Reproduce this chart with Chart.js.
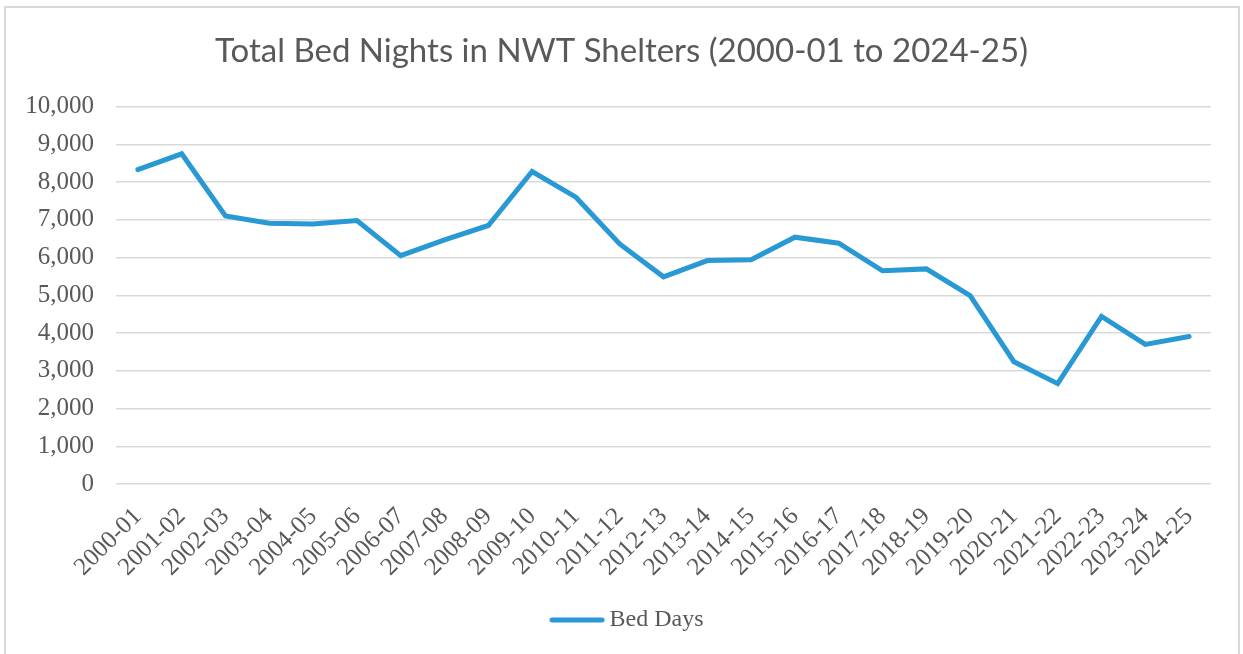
<!DOCTYPE html>
<html>
<head>
<meta charset="utf-8">
<script src="https://cdn.jsdelivr.net/npm/chart.js@4/dist/chart.umd.min.js"></script>
<style>
  html, body { margin: 0; padding: 0; background: #ffffff; }
  #wrap { position: relative; width: 1243px; height: 654px; overflow: hidden; }
  #frame { position: absolute; left: 4px; top: 6px; width: 1236px; height: 700px; border: 2px solid #d9d9d9; box-sizing: border-box; }
  canvas { position: absolute; left: 0; top: 0; }
</style>
</head>
<body>
<div id="wrap">
  <div id="frame"></div>
  <canvas id="c" width="1243" height="654"></canvas>
</div>
<script>
const titleText = "Total Bed Nights in NWT Shelters (2000-01 to 2024-25)";
const seriesName = "Bed Days";
const categories = ["2000-01","2001-02","2002-03","2003-04","2004-05","2005-06","2006-07","2007-08","2008-09","2009-10","2010-11","2011-12","2012-13","2013-14","2014-15","2015-16","2016-17","2017-18","2018-19","2019-20","2020-21","2021-22","2022-23","2023-24","2024-25"];
const bedDays = [8330,8750,7100,6910,6890,6980,6050,6470,6850,8280,7600,6360,5490,5920,5940,6540,6380,5650,5700,4990,3240,2660,4440,3700,3910];
const yMin = 0, yMax = 10000, yStep = 1000;

const textColor = "#595959";
const lineColor = "#2899D5";
const gridColor = "#d9d9d9";
const serif = "'Liberation Serif', 'DejaVu Serif', serif";

// legend swatch: a short thick line with round caps, offset toward the label
const swatch = document.createElement("canvas");
swatch.width = 76; swatch.height = 10;
(function () {
  const g = swatch.getContext("2d");
  g.strokeStyle = lineColor;
  g.lineWidth = 5;
  g.lineCap = "round";
  g.beginPath();
  g.moveTo(21.5, 5);
  g.lineTo(71.5, 5);
  g.stroke();
})();

new Chart(document.getElementById("c"), {
  type: "line",
  data: {
    labels: categories,
    datasets: [{
      label: seriesName,
      data: bedDays,
      borderColor: lineColor,
      backgroundColor: lineColor,
      borderWidth: 5,
      borderCapStyle: "round",
      borderJoinStyle: "miter",
      pointRadius: 0,
      pointHoverRadius: 0,
      pointStyle: swatch,
      tension: 0,
      fill: false
    }]
  },
  options: {
    responsive: false,
    animation: false,
    devicePixelRatio: 1,
    layout: { padding: { left: 0, right: 0, top: 0, bottom: 12 } },
    plugins: {
      title: {
        display: true,
        text: titleText,
        color: textColor,
        font: { family: "Lato, 'Open Sans', sans-serif", size: 33, weight: "normal" },
        padding: { top: 32, bottom: 35 }
      },
      legend: {
        display: true,
        position: "bottom",
        labels: {
          color: textColor,
          font: { family: serif, size: 24 },
          usePointStyle: true,
          pointStyleWidth: 58,
          padding: 10
        }
      },
      tooltip: { enabled: false }
    },
    scales: {
      x: {
        offset: true,
        grid: { display: false, drawTicks: false },
        border: { display: false },
        ticks: {
          color: textColor,
          font: { family: serif, size: 25 },
          minRotation: 45,
          maxRotation: 45,
          autoSkip: false,
          padding: 18,
          labelOffset: 0
        },
        afterFit: (s) => { s.height = 114; }
      },
      y: {
        min: yMin,
        max: yMax,
        grid: { color: gridColor, lineWidth: 1.5, drawTicks: false },
        border: { display: false },
        ticks: {
          stepSize: yStep,
          color: textColor,
          font: { family: serif, size: 25 },
          padding: 22,
          callback: (v) => v.toLocaleString("en-US")
        },
        afterFit: (s) => { s.width = 116; }
      },
      yRightSpace: {
        type: "linear",
        position: "right",
        display: true,
        grid: { display: false, drawTicks: false },
        border: { display: false },
        ticks: { display: false },
        afterFit: (s) => { s.width = 32; }
      }
    }
  }
});
</script>
</body>
</html>
